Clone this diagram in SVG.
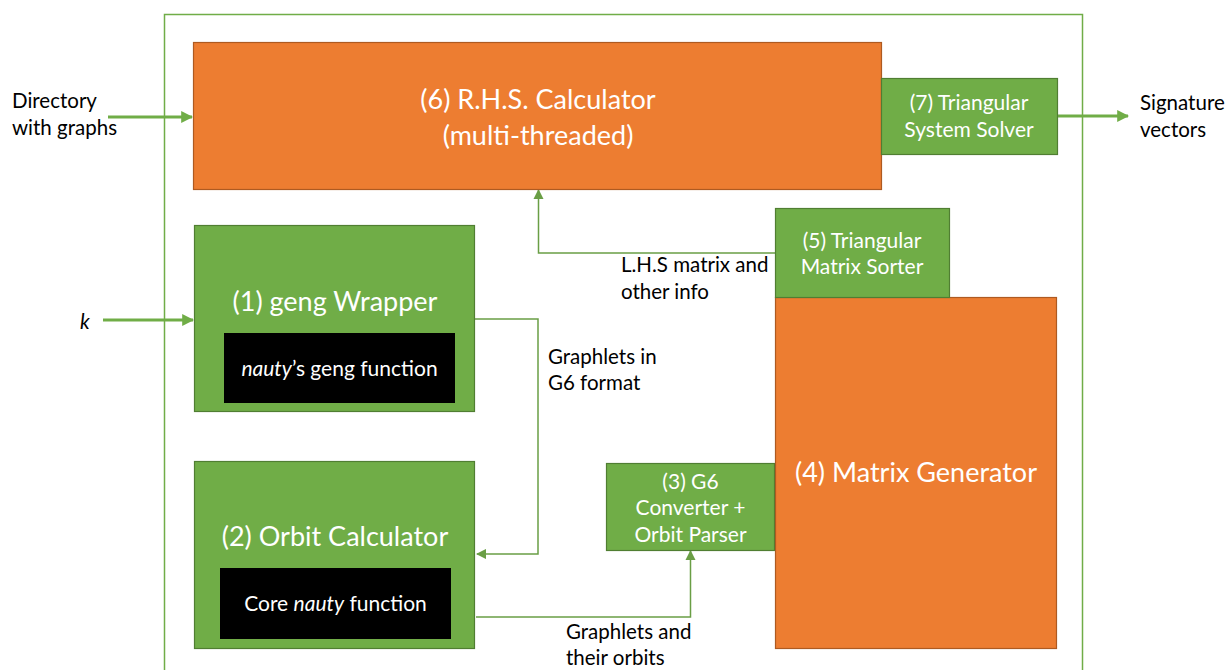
<svg xmlns="http://www.w3.org/2000/svg" width="1229" height="670" viewBox="0 0 1229 670">
  <style>
    .frame { fill: none; stroke: #70AD47; stroke-width: 1.5; }
    .orange { fill: #ED7D31; stroke: #AE5A21; stroke-width: 1.2; }
    .green { fill: #70AD47; stroke: #507E32; stroke-width: 1.2; }
    .black { fill: #000000; }
    .wt { fill: #FFFFFF; font-family: Lato, "Liberation Sans", sans-serif; text-anchor: middle; }
    .lbl { fill: #000000; font-family: Lato, "Liberation Sans", sans-serif; font-size: 20.5px; }
    .big { font-size: 27px; }
    .mid { font-size: 21px; }
    .io { fill: none; stroke: #70AD47; stroke-width: 3; }
    .link { fill: none; stroke: #6A9E45; stroke-width: 1.5; }
  </style>
  <defs>
    <marker id="headIO" viewBox="0 0 10 10" refX="9" refY="5" markerWidth="4" markerHeight="4" orient="auto" markerUnits="strokeWidth">
      <path d="M0,0 L10,5 L0,10 z" fill="#70AD47"/>
    </marker>
    <marker id="head" viewBox="0 0 10 10" refX="9" refY="5" markerWidth="7" markerHeight="7" orient="auto" markerUnits="strokeWidth">
      <path d="M0,0 L10,5 L0,10 z" fill="#6A9E45"/>
    </marker>
  </defs>

  <rect width="1229" height="670" fill="#FFFFFF"/>

  <!-- system boundary -->
  <rect class="frame" x="164.5" y="14.5" width="918" height="680"/>

  <!-- connectors -->
  <g id="connectors">
    <line class="io" x1="108" y1="117" x2="192" y2="117" marker-end="url(#headIO)"/>
    <line class="io" x1="1057" y1="116" x2="1128" y2="116" marker-end="url(#headIO)"/>
    <line class="io" x1="103" y1="320" x2="193" y2="320" marker-end="url(#headIO)"/>
    <polyline class="link" points="475,319 538,319 538,554 477,554" marker-end="url(#head)"/>
    <polyline class="link" points="476,617 690.5,617 690.5,551" marker-end="url(#head)"/>
    <polyline class="link" points="775,253 538.5,253 538.5,190" marker-end="url(#head)"/>
  </g>

  <!-- (6) R.H.S. Calculator -->
  <g id="rhs-calculator">
    <rect class="orange" x="193.5" y="42.5" width="688" height="147"/>
    <text class="wt big" x="538" y="109">(6) R.H.S. Calculator</text>
    <text class="wt big" x="538" y="145">(multi-threaded)</text>
  </g>

  <!-- (7) Triangular System Solver -->
  <g id="system-solver">
    <rect class="green" x="881.5" y="78.5" width="176" height="76"/>
    <text class="wt mid" x="969" y="110">(7) Triangular</text>
    <text class="wt mid" x="969" y="137">System Solver</text>
  </g>

  <!-- (1) geng Wrapper -->
  <g id="geng-wrapper">
    <rect class="green" x="194.5" y="225.5" width="280" height="186"/>
    <text class="wt big" x="335" y="311">(1) geng Wrapper</text>
    <rect class="black" x="224" y="333" width="231" height="70"/>
    <text class="wt" x="339.5" y="376" font-size="21"><tspan font-style="italic">nauty</tspan>’s geng function</text>
  </g>

  <!-- (2) Orbit Calculator -->
  <g id="orbit-calculator">
    <rect class="green" x="194.5" y="461.5" width="280" height="187"/>
    <text class="wt big" x="335" y="546">(2) Orbit Calculator</text>
    <rect class="black" x="220" y="568" width="231" height="71"/>
    <text class="wt" x="335.5" y="611" font-size="21">Core <tspan font-style="italic">nauty</tspan> function</text>
  </g>

  <!-- (3) G6 Converter + Orbit Parser -->
  <g id="g6-converter">
    <rect class="green" x="606.5" y="463.5" width="168" height="87"/>
    <text class="wt mid" x="690.5" y="489">(3) G6</text>
    <text class="wt mid" x="690.5" y="515">Converter +</text>
    <text class="wt mid" x="690.5" y="542">Orbit Parser</text>
  </g>

  <!-- (4) Matrix Generator -->
  <g id="matrix-generator">
    <rect class="orange" x="775.5" y="297.5" width="281" height="351"/>
    <text class="wt big" x="916" y="482">(4) Matrix Generator</text>
  </g>

  <!-- (5) Triangular Matrix Sorter -->
  <g id="matrix-sorter">
    <rect class="green" x="775.5" y="208.5" width="174" height="89"/>
    <text class="wt mid" x="862" y="248">(5) Triangular</text>
    <text class="wt mid" x="862" y="274">Matrix Sorter</text>
  </g>

  <!-- external inputs, outputs and flow labels -->
  <g id="labels">
    <text class="lbl" x="12" y="108">Directory</text>
    <text class="lbl" x="12" y="135">with graphs</text>
    <text class="lbl" x="1140" y="110">Signature</text>
    <text class="lbl" x="1140" y="137">vectors</text>
    <text class="lbl" x="80" y="329" font-size="27" font-style="italic">k</text>
    <text class="lbl" x="548" y="364">Graphlets in</text>
    <text class="lbl" x="548" y="390">G6 format</text>
    <text class="lbl" x="621" y="272">L.H.S matrix and</text>
    <text class="lbl" x="621" y="299">other info</text>
    <text class="lbl" x="566" y="639">Graphlets and</text>
    <text class="lbl" x="566" y="665">their orbits</text>
  </g>
</svg>
